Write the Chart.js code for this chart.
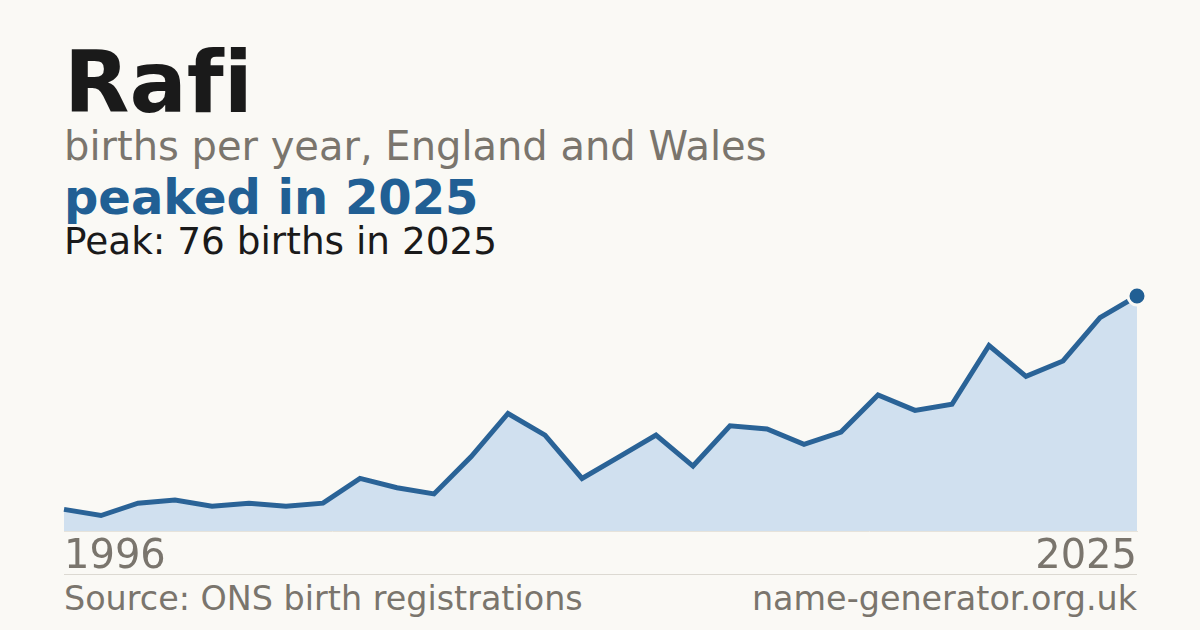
<!DOCTYPE html>
<html>
<head>
<meta charset="utf-8">
<script src="https://cdn.jsdelivr.net/npm/chart.js@4/dist/chart.umd.min.js"></script>
<style>
  html, body { margin: 0; padding: 0; background: #faf9f5; }
  body { width: 1200px; height: 630px; position: relative; overflow: hidden; font-family: "DejaVu Sans", sans-serif; }
  #txt { position: absolute; left: 0; top: 0; font-variant-ligatures: none; font-feature-settings: "liga" 0, "clig" 0; }
  #wrap { position: absolute; left: 44px; top: 276px; width: 1113px; height: 309px; }
</style>
</head>
<body>
<svg id="txt" width="1200" height="630" xmlns="http://www.w3.org/2000/svg" font-family="DejaVu Sans, sans-serif">
  <text x="64" y="112" font-size="85" font-weight="bold" fill="#1a1a1a">Rafi</text>
  <text x="64" y="160" font-size="40" fill="#7a756d">births per year, England and Wales</text>
  <text x="64" y="214" font-size="48" font-weight="bold" fill="#215f94">peaked in 2025</text>
  <text x="64" y="254" font-size="37.4" fill="#1a1a1a">Peak: 76 births in 2025</text>
  <line x1="64" y1="574.5" x2="1137" y2="574.5" stroke="#dcd9d2" stroke-width="1"/>
  <text x="64" y="609.5" font-size="33.4" fill="#7a756d">Source: ONS birth registrations</text>
  <text x="1137" y="609.5" font-size="33.4" fill="#7a756d" text-anchor="end">name-generator.org.uk</text>
</svg>
<div id="wrap"><canvas id="c"></canvas></div>
<script>
const years = [1996,1997,1998,1999,2000,2001,2002,2003,2004,2005,2006,2007,2008,2009,2010,2011,2012,2013,2014,2015,2016,2017,2018,2019,2020,2021,2022,2023,2024,2025];
const births = [7,5,9,10,8,9,8,9,17,14,12,24,38,31,17,24,31,21,34,33,28,32,44,39,41,60,50,55,69,76];
const tickLabels = ["1996","2025"];

const lastIdx = births.length - 1;
new Chart(document.getElementById('c'), {
  type: 'line',
  data: {
    labels: years.map(String),
    datasets: [{
      data: births,
      borderColor: '#2a6397',
      borderWidth: 5,
      backgroundColor: '#d0e0ef',
      fill: 'origin',
      tension: 0,
      clip: false,
      borderJoinStyle: 'miter',
      pointRadius: births.map((v, i) => i === lastIdx ? 9 : 0),
      pointHoverRadius: births.map((v, i) => i === lastIdx ? 9 : 0),
      pointBackgroundColor: '#215f94',
      pointBorderColor: '#faf9f5',
      pointBorderWidth: 3
    }]
  },
  options: {
    responsive: true,
    maintainAspectRatio: false,
    animation: false,
    events: [],
    layout: { padding: { left: 20, right: 20, top: 20, bottom: 0 } },
    plugins: { legend: { display: false }, tooltip: { enabled: false } },
    scales: {
      x: {
        offset: false,
        grid: { display: false, drawTicks: false },
        border: { display: true, color: '#e6e3db', width: 1 },
        ticks: {
          autoSkip: false,
          maxRotation: 0,
          align: 'inner',
          padding: 3,
          color: '#7a756d',
          font: { family: 'DejaVu Sans', size: 40 },
          callback: function(val, idx) {
            const l = this.getLabelForValue(val);
            return tickLabels.includes(l) ? l : null;
          }
        }
      },
      y: {
        display: false,
        min: 0,
        max: 76
      }
    }
  }
});
</script>
</body>
</html>
